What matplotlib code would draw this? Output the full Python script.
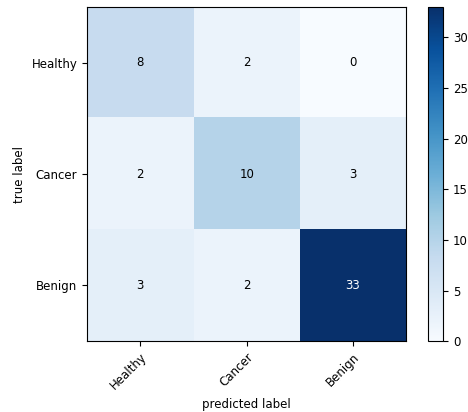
import numpy as np
import matplotlib
matplotlib.use("Agg")
import matplotlib.pyplot as plt

classes = ["Healthy", "Cancer", "Benign"]
cm = np.array([[8, 2, 0],
               [2, 10, 3],
               [3, 2, 33]])

plt.rcParams["font.size"] = 8.5

fig = plt.figure(figsize=(4.68, 4.12), dpi=100)
ax = fig.add_axes([0.186, 0.172, 0.682, 0.811])
cax = fig.add_axes([0.915, 0.172, 0.032, 0.811])

im = ax.imshow(cm, interpolation="nearest", cmap=plt.cm.Blues, aspect="auto")
cb = fig.colorbar(im, cax=cax)

ticks = np.arange(len(classes))
ax.set_xticks(ticks)
ax.set_xticklabels(classes, rotation=45, ha="right", rotation_mode="anchor")
ax.set_yticks(ticks)
ax.set_yticklabels(classes)

thresh = cm.max() / 2.0
for i in range(cm.shape[0]):
    for j in range(cm.shape[1]):
        ax.text(j, i, format(cm[i, j], "d"), ha="center", va="center",
                color="white" if cm[i, j] > thresh else "black")

ax.set_ylabel("true label")
ax.set_xlabel("predicted label")

fig.savefig("out.png", dpi=100)
